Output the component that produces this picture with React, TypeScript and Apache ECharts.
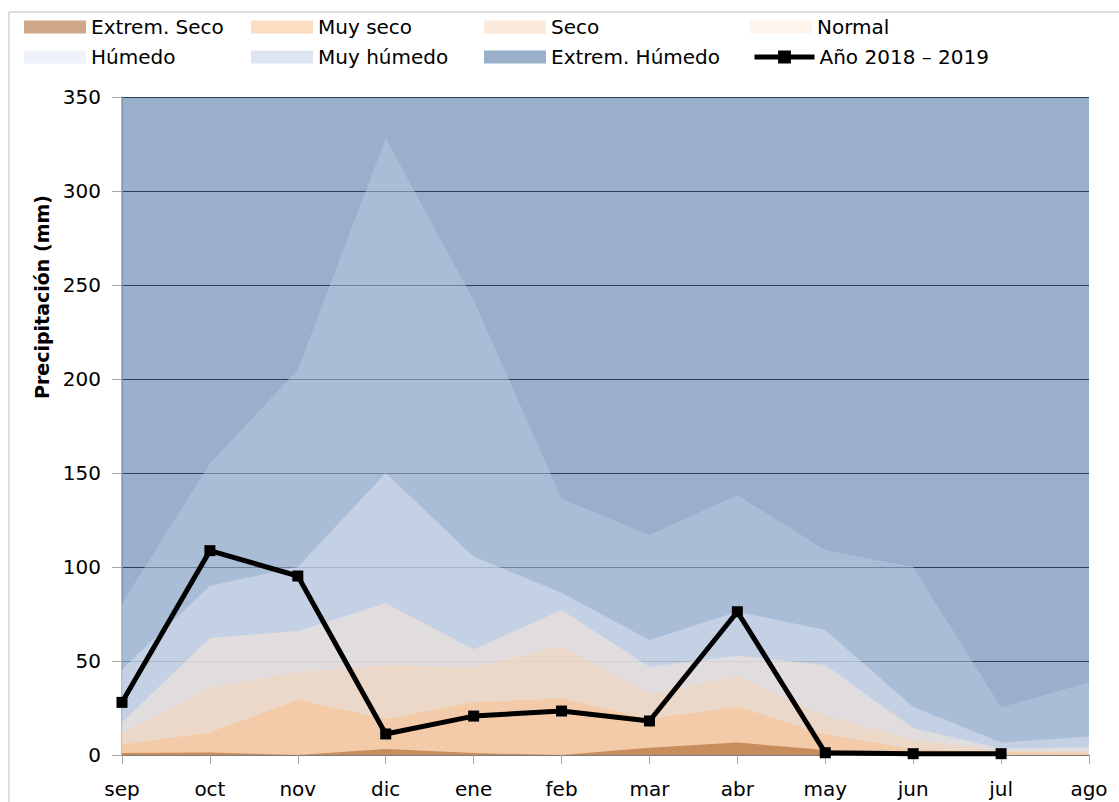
import React, { useEffect, useRef } from "react";
import * as echarts from "echarts";

const months = ["sep", "oct", "nov", "dic", "ene", "feb", "mar", "abr", "may", "jun", "jul", "ago"];
// upper limit of each precipitation class (mm)
const extremSeco = [1, 1.3, 0, 3.2, 1, 0, 3.9, 6.6, 2.7, 0, 0, 0];
const muySeco = [5.5, 12, 29.3, 19.1, 28, 30.1, 19.1, 25.7, 11, 3, 1.6, 0.6];
const seco = [11, 35.8, 44, 47.9, 46.6, 58, 32.4, 41.7, 21, 8, 2.3, 1.8];
const normal = [17.4, 62.2, 66, 80.7, 56.2, 77.1, 47, 52.8, 47.9, 14.2, 3.5, 4.1];
const humedo = [45.6, 90, 100, 150, 105.5, 86.3, 61.2, 76.2, 66.5, 25.5, 6.6, 9.8];
const muyHumedo = [80.7, 155, 205, 328, 242, 136.5, 117, 138.3, 109, 100, 25.4, 38.7];
const extremHumedo = [350, 350, 350, 350, 350, 350, 350, 350, 350, 350, 350, 350];
const anio = [28, 108.7, 95.2, 11.2, 20.7, 23.4, 18.1, 76.2, 1.2, 0.7, 0.7, null];
const yTicks = [0, 50, 100, 150, 200, 250, 300, 350];

const FONT = "DejaVu Sans";
const LINE_NAME = "Año 2018 – 2019";

const bands = [
  { name: "Extrem. Húmedo", data: extremHumedo, color: "rgba(75,112,159,0.56)" },
  { name: "Muy húmedo", data: muyHumedo, color: "rgba(185,203,227,0.5)" },
  { name: "Húmedo", data: humedo, color: "rgba(221,229,243,0.5)" },
  { name: "Normal", data: normal, color: "rgba(253,233,216,0.5)" },
  { name: "Seco", data: seco, color: "rgba(248,211,180,0.5)" },
  { name: "Muy seco", data: muySeco, color: "rgba(250,190,135,0.5)" },
  { name: "Extrem. Seco", data: extremSeco, color: "rgba(157,79,18,0.5)" },
];

const legendPos = [
  { name: "Extrem. Seco", left: 24, top: 16 },
  { name: "Muy seco", left: 251, top: 16 },
  { name: "Seco", left: 484, top: 16 },
  { name: "Normal", left: 750, top: 16 },
  { name: "Húmedo", left: 24, top: 46 },
  { name: "Muy húmedo", left: 251, top: 46 },
  { name: "Extrem. Húmedo", left: 484, top: 46 },
  { name: LINE_NAME, left: 752, top: 46 },
];

export default function App() {
  const ref = useRef<HTMLDivElement>(null);
  useEffect(() => {
    if (!ref.current) return;
    const chart = echarts.init(ref.current, null, { renderer: "svg" });
    const series: any[] = bands.map((b) => ({
      name: b.name,
      type: "line",
      data: b.data,
      showSymbol: false,
      symbol: "none",
      lineStyle: { width: 0, opacity: 0 },
      itemStyle: { color: b.color },
      areaStyle: { color: b.color, opacity: 1 },
      emphasis: { disabled: true },
      silent: true,
    }));
    series.push({
      name: LINE_NAME,
      type: "line",
      data: anio,
      symbol: "rect",
      symbolSize: 11,
      itemStyle: { color: "#000000" },
      lineStyle: { color: "#000000", width: 5 },
      z: 5,
    });
    chart.setOption({
      animation: false,
      backgroundColor: "#ffffff",
      graphic: [
        {
          type: "rect",
          shape: { x: 9, y: 12, width: 1200, height: 900 },
          style: { fill: "none", stroke: "#BFBFBF", lineWidth: 1 },
          silent: true,
        },
        {
          type: "text",
          x: 42,
          y: 297,
          rotation: Math.PI / 2,
          silent: true,
          style: {
            text: "Precipitación (mm)",
            fontFamily: FONT,
            fontSize: 19,
            fontWeight: "bold",
            fill: "#000",
            align: "center",
            verticalAlign: "middle",
          },
        },
      ],
      legend: legendPos.map((l) => {
        const isLine = l.name === LINE_NAME;
        return {
          left: l.left,
          top: l.top,
          padding: 0,
          data: [l.name],
          icon: isLine ? undefined : "rect",
          itemWidth: isLine ? 60 : 62,
          itemHeight: isLine ? 16 : 13,
          lineStyle: isLine ? { width: 5, color: "#000" } : undefined,
          selectedMode: false,
          textStyle: { fontFamily: FONT, fontSize: 20, color: "#000", lineHeight: 22 },
        };
      }),
      grid: { left: 122, right: 30, top: 97, bottom: 47, containLabel: false },
      xAxis: {
        type: "category",
        data: months,
        boundaryGap: false,
        axisLine: { show: true, lineStyle: { color: "#A6A6A6", width: 1.5 } },
        axisTick: { show: true, alignWithLabel: true, length: 9, lineStyle: { color: "#A6A6A6" } },
        axisLabel: { fontFamily: FONT, fontSize: 20, color: "#000", margin: 24, interval: 0 },
        splitLine: { show: false },
      },
      yAxis: {
        type: "value",
        min: yTicks[0],
        max: yTicks[yTicks.length - 1],
        interval: 50,
        axisLine: { show: true, lineStyle: { color: "#A6A6A6", width: 1.5 } },
        axisTick: { show: true, length: 10, lineStyle: { color: "#A6A6A6" } },
        axisLabel: { fontFamily: FONT, fontSize: 20, color: "#000", margin: 21 },
        splitLine: { show: true, lineStyle: { color: "#000000", width: 1.2 } },
      },
      series,
    });
    return () => chart.dispose();
  }, []);
  return (
    <div
      ref={ref}
      style={{ position: "fixed", left: 0, top: 0, width: 1119, height: 802, background: "#fff" }}
    />
  );
}
